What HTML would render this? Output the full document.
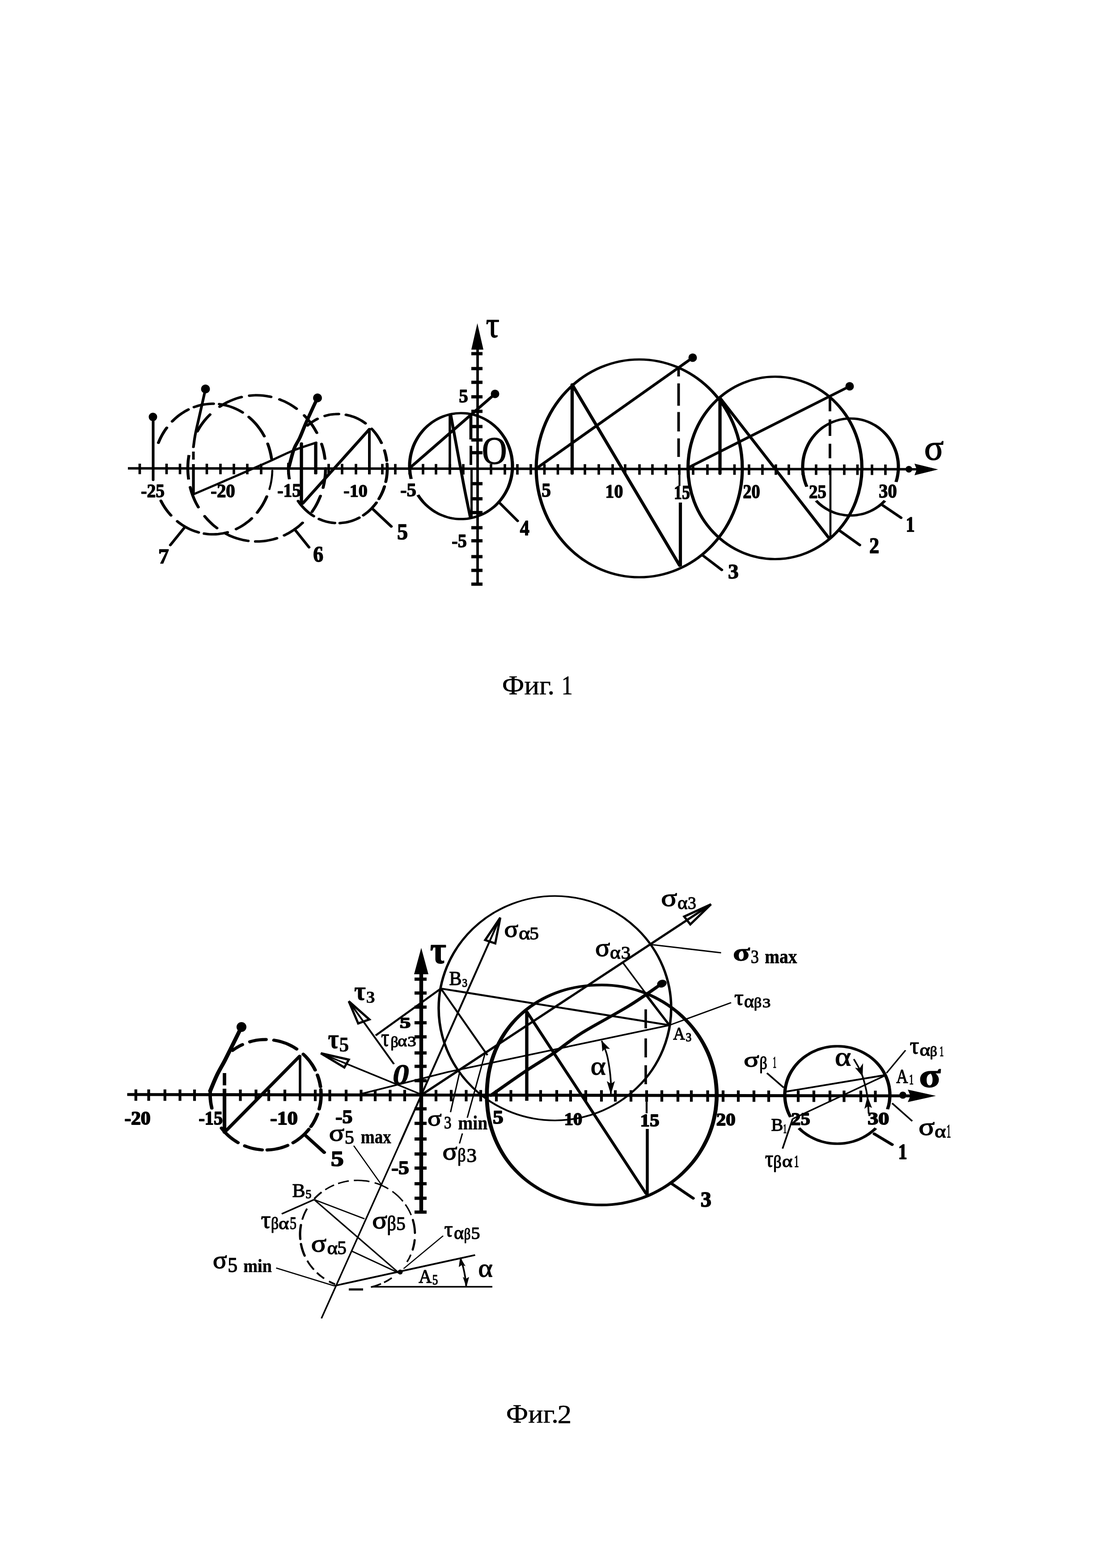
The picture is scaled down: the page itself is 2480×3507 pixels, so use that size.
<!DOCTYPE html>
<html lang="ru">
<head>
<meta charset="utf-8">
<title>Фиг. 1 — Фиг. 2</title>
<style>
html,body{margin:0;padding:0;background:#fff;}
body{width:2480px;height:3507px;overflow:hidden;}
svg{display:block;position:absolute;left:0;top:0;will-change:transform;}
svg text{font-family:"Liberation Serif","DejaVu Serif",serif;fill:#000;stroke:none;}
svg text.b{font-weight:bold;}
svg text.i{font-style:italic;}
svg text.s{stroke:#000;stroke-linejoin:round;}
.g{fill:none;stroke:#000;}
</style>
</head>
<body>
<svg width="2480" height="3507" viewBox="0 0 2480 3507">
<rect x="0" y="0" width="2480" height="3507" fill="#fff"/>
<g class="g">
<!-- ===== Fig. 1 ===== -->
<line x1="286" y1="1047.5" x2="2050" y2="1049.5" stroke-width="5.54"/>
<polygon points="2045,1037 2098,1050 2045,1063 2050,1050" fill="#000" stroke="none"/>
<circle cx="2032.5" cy="1049.5" r="7.5" fill="#000" stroke="none"/>
<line x1="1068" y1="779" x2="1068" y2="1308" stroke-width="5.72"/>
<polygon points="1054,782 1067.5,723 1081,782" fill="#000" stroke="none"/>
<line x1="312.5" y1="1037" x2="312.5" y2="1060.5" stroke-width="5.63"/>
<line x1="372.5" y1="1037.1" x2="372.5" y2="1060.6" stroke-width="5.63"/>
<line x1="402.5" y1="1037.1" x2="402.5" y2="1060.6" stroke-width="5.63"/>
<line x1="462.5" y1="1037.2" x2="462.5" y2="1060.7" stroke-width="5.63"/>
<line x1="493" y1="1037.2" x2="493" y2="1060.7" stroke-width="5.63"/>
<line x1="523" y1="1037.3" x2="523" y2="1060.8" stroke-width="5.63"/>
<line x1="553" y1="1037.3" x2="553" y2="1060.8" stroke-width="5.63"/>
<line x1="584" y1="1037.3" x2="584" y2="1060.8" stroke-width="5.63"/>
<line x1="645" y1="1037.4" x2="645" y2="1060.9" stroke-width="5.63"/>
<line x1="706" y1="1037.5" x2="706" y2="1061" stroke-width="5.63"/>
<line x1="735" y1="1037.5" x2="735" y2="1061" stroke-width="5.63"/>
<line x1="765" y1="1037.5" x2="765" y2="1061" stroke-width="5.63"/>
<line x1="796" y1="1037.6" x2="796" y2="1061.1" stroke-width="5.63"/>
<line x1="826" y1="1037.6" x2="826" y2="1061.1" stroke-width="5.63"/>
<line x1="855" y1="1037.6" x2="855" y2="1061.1" stroke-width="5.63"/>
<line x1="884" y1="1037.7" x2="884" y2="1061.2" stroke-width="5.63"/>
<line x1="916" y1="1037.7" x2="916" y2="1061.2" stroke-width="5.63"/>
<line x1="946" y1="1037.7" x2="946" y2="1061.2" stroke-width="5.63"/>
<line x1="975" y1="1037.8" x2="975" y2="1061.3" stroke-width="5.63"/>
<line x1="1006" y1="1037.8" x2="1006" y2="1061.3" stroke-width="5.63"/>
<line x1="1036" y1="1037.9" x2="1036" y2="1061.4" stroke-width="5.63"/>
<line x1="1098" y1="1037.9" x2="1098" y2="1061.4" stroke-width="5.63"/>
<line x1="1129" y1="1038" x2="1129" y2="1061.5" stroke-width="5.63"/>
<line x1="1157" y1="1038" x2="1157" y2="1061.5" stroke-width="5.63"/>
<line x1="1187" y1="1038" x2="1187" y2="1061.5" stroke-width="5.63"/>
<line x1="1217.5" y1="1038.1" x2="1217.5" y2="1061.6" stroke-width="5.63"/>
<line x1="1247.5" y1="1038.1" x2="1247.5" y2="1061.6" stroke-width="5.63"/>
<line x1="1279.5" y1="1038.1" x2="1279.5" y2="1061.6" stroke-width="5.63"/>
<line x1="1308" y1="1038.2" x2="1308" y2="1061.7" stroke-width="5.63"/>
<line x1="1339" y1="1038.2" x2="1339" y2="1061.7" stroke-width="5.63"/>
<line x1="1370" y1="1038.2" x2="1370" y2="1061.7" stroke-width="5.63"/>
<line x1="1398" y1="1038.3" x2="1398" y2="1061.8" stroke-width="5.63"/>
<line x1="1430" y1="1038.3" x2="1430" y2="1061.8" stroke-width="5.63"/>
<line x1="1459" y1="1038.3" x2="1459" y2="1061.8" stroke-width="5.63"/>
<line x1="1489" y1="1038.4" x2="1489" y2="1061.9" stroke-width="5.63"/>
<line x1="1519" y1="1038.4" x2="1519" y2="1061.9" stroke-width="5.63"/>
<line x1="1550" y1="1038.4" x2="1550" y2="1061.9" stroke-width="5.63"/>
<line x1="1582" y1="1038.5" x2="1582" y2="1062" stroke-width="5.63"/>
<line x1="1610" y1="1038.5" x2="1610" y2="1062" stroke-width="5.63"/>
<line x1="1642.5" y1="1038.5" x2="1642.5" y2="1062" stroke-width="5.63"/>
<line x1="1675" y1="1038.6" x2="1675" y2="1062.1" stroke-width="5.63"/>
<line x1="1705" y1="1038.6" x2="1705" y2="1062.1" stroke-width="5.63"/>
<line x1="1735" y1="1038.6" x2="1735" y2="1062.1" stroke-width="5.63"/>
<line x1="1764" y1="1038.7" x2="1764" y2="1062.2" stroke-width="5.63"/>
<line x1="1795" y1="1038.7" x2="1795" y2="1062.2" stroke-width="5.63"/>
<line x1="1825" y1="1038.7" x2="1825" y2="1062.2" stroke-width="5.63"/>
<line x1="1856" y1="1038.8" x2="1856" y2="1062.3" stroke-width="5.63"/>
<line x1="1888" y1="1038.8" x2="1888" y2="1062.3" stroke-width="5.63"/>
<line x1="1917.5" y1="1038.8" x2="1917.5" y2="1062.3" stroke-width="5.63"/>
<line x1="1950" y1="1038.9" x2="1950" y2="1062.4" stroke-width="5.63"/>
<line x1="1980" y1="1038.9" x2="1980" y2="1062.4" stroke-width="5.63"/>
<line x1="1054" y1="791" x2="1079" y2="791" stroke-width="7.3"/>
<line x1="1054" y1="824.4" x2="1079" y2="824.4" stroke-width="7.3"/>
<line x1="1054" y1="855.1" x2="1079" y2="855.1" stroke-width="7.3"/>
<line x1="1054" y1="887.5" x2="1079" y2="887.5" stroke-width="7.3"/>
<line x1="1054" y1="920" x2="1079" y2="920" stroke-width="7.3"/>
<line x1="1054" y1="954" x2="1079" y2="954" stroke-width="7.3"/>
<line x1="1054" y1="984" x2="1079" y2="984" stroke-width="7.3"/>
<line x1="1054" y1="1012.5" x2="1079" y2="1012.5" stroke-width="7.3"/>
<line x1="1054" y1="1081.8" x2="1079" y2="1081.8" stroke-width="7.3"/>
<line x1="1054" y1="1115.6" x2="1079" y2="1115.6" stroke-width="7.3"/>
<line x1="1054" y1="1146.4" x2="1079" y2="1146.4" stroke-width="7.3"/>
<line x1="1054" y1="1180.3" x2="1079" y2="1180.3" stroke-width="7.3"/>
<line x1="1054" y1="1209.5" x2="1079" y2="1209.5" stroke-width="7.3"/>
<line x1="1054" y1="1245" x2="1079" y2="1245" stroke-width="7.3"/>
<line x1="1054" y1="1275.7" x2="1079" y2="1275.7" stroke-width="7.3"/>
<line x1="1054" y1="1306.5" x2="1079" y2="1306.5" stroke-width="7.3"/>
<path d="M295.2,990.2C295.7,988.8 297.3,984.3 298.4,981.4C299.6,978.5 300.8,975.6 302.1,972.8C303.4,970 304.8,967.3 306.2,964.6C307.7,961.9 310,958.1 310.8,956.8" stroke-width="5.54" stroke-linecap="round" stroke-linejoin="round" transform="scale(1.2 1)"/>
<path d="M320.9,942.4C322.1,941.1 325.4,937.1 327.8,934.6C330.2,932.1 332.6,929.8 335.1,927.6C337.6,925.4 340.2,923.3 342.9,921.4C345.5,919.4 349.6,916.9 351,916" stroke-width="5.54" stroke-linecap="round" stroke-linejoin="round" transform="scale(1.2 1)"/>
<path d="M361.6,910.5C363.1,909.9 367.5,908.1 370.5,907.1C373.4,906.2 376.5,905.4 379.5,904.8C382.5,904.1 385.6,903.7 388.7,903.4C391.8,903.1 396.4,903.1 397.9,903" stroke-width="5.54" stroke-linecap="round" stroke-linejoin="round" transform="scale(1.2 1)"/>
<path d="M408.6,903.9C410.2,904.2 414.7,904.9 417.7,905.7C420.7,906.4 423.7,907.4 426.7,908.5C429.6,909.6 432.6,910.8 435.4,912.2C438.3,913.6 441.1,915.2 443.9,916.9C446.7,918.6 450.7,921.6 452.1,922.5" stroke-width="5.54" stroke-linecap="round" stroke-linejoin="round" transform="scale(1.2 1)"/>
<path d="M463.7,932.7C464.8,934 468.3,937.5 470.5,940.1C472.6,942.6 474.7,945.3 476.7,948C478.7,950.8 480.7,953.7 482.5,956.7C484.4,959.6 486.1,962.7 487.8,965.8C489.4,969 491.7,973.9 492.5,975.5" stroke-width="5.54" stroke-linecap="round" stroke-linejoin="round" transform="scale(1.2 1)"/>
<path d="M498.9,992.5C499.4,994.3 501,999.6 501.9,1003.3C502.8,1006.9 503.6,1010.6 504.3,1014.4C505,1018.1 505.8,1023.8 506.1,1025.7" stroke-width="5.54" stroke-linecap="round" stroke-linejoin="round" transform="scale(1.2 1)"/>
<path d="M507.5,1052.4C507.4,1054.2 507.2,1059.5 507,1063C506.7,1066.5 506.4,1070 505.9,1073.5C505.5,1077 504.9,1080.5 504.3,1083.9C503.6,1087.3 502.4,1092.4 502.1,1094.1" stroke-width="3.78" stroke-linecap="round" stroke-linejoin="round" transform="scale(1.2 1)"/>
<path d="M497.1,1110.7C496.5,1112.3 494.7,1117.1 493.4,1120.3C492.1,1123.4 490.7,1126.4 489.2,1129.4C487.7,1132.4 486.1,1135.3 484.4,1138.1C482.8,1141 480.1,1145 479.3,1146.4" stroke-width="5.54" stroke-linecap="round" stroke-linejoin="round" transform="scale(1.2 1)"/>
<path d="M469.1,1159.5C468,1160.7 464.7,1164.3 462.4,1166.6C460.1,1168.8 457.7,1170.9 455.3,1172.9C452.9,1174.9 450.4,1176.8 447.8,1178.5C445.3,1180.2 441.4,1182.5 440.1,1183.3" stroke-width="5.54" stroke-linecap="round" stroke-linejoin="round" transform="scale(1.2 1)"/>
<path d="M424.1,1190.5C422.7,1190.9 418.4,1192.2 415.5,1192.9C412.6,1193.5 409.7,1194 406.8,1194.4C403.8,1194.7 400.9,1194.9 398,1195C395,1195 392.1,1194.9 389.1,1194.7C386.2,1194.4 381.8,1193.6 380.4,1193.4" stroke-width="5.54" stroke-linecap="round" stroke-linejoin="round" transform="scale(1.2 1)"/>
<path d="M370.1,1190.8C368.7,1190.2 364.4,1188.7 361.6,1187.5C358.8,1186.3 356,1184.9 353.3,1183.4C350.6,1181.9 347.9,1180.2 345.3,1178.4C342.7,1176.6 340.2,1174.7 337.7,1172.6C335.2,1170.5 331.6,1167.1 330.4,1166" stroke-width="5.54" stroke-linecap="round" stroke-linejoin="round" transform="scale(1.2 1)"/>
<path d="M318.6,1152.7C317.7,1151.4 315,1147.8 313.3,1145.2C311.6,1142.6 309.9,1140 308.4,1137.3C306.8,1134.5 305.3,1131.7 303.9,1128.9C302.5,1126 300.5,1121.6 299.9,1120.1" stroke-width="5.54" stroke-linecap="round" stroke-linejoin="round" transform="scale(1.2 1)"/>
<path d="M367.7,964.6C368.6,962.9 371,957.7 372.8,954.4C374.6,951.1 376.5,947.9 378.5,944.8C380.4,941.7 382.5,938.7 384.7,935.7C386.8,932.8 390.2,928.7 391.4,927.3" stroke-width="5.54" stroke-linecap="round" stroke-linejoin="round" transform="scale(1.2 1)"/>
<path d="M409.4,909.6C411,908.4 415.7,904.7 419,902.5C422.2,900.4 425.6,898.4 429,896.6C432.4,894.8 435.9,893.1 439.4,891.7C442.9,890.3 448.3,888.6 450.1,888" stroke-width="5.54" stroke-linecap="round" stroke-linejoin="round" transform="scale(1.2 1)"/>
<path d="M464.7,884.9C466.4,884.8 471.4,884.2 474.8,884.1C478.2,883.9 481.5,884 484.9,884.2C488.3,884.4 491.7,884.8 495,885.4C498.4,885.9 503.3,887.2 505,887.6" stroke-width="5.54" stroke-linecap="round" stroke-linejoin="round" transform="scale(1.2 1)"/>
<path d="M521,893.3C522.3,894 526.5,895.9 529.3,897.4C532,898.9 534.7,900.6 537.3,902.3C540,904 542.6,905.9 545.1,907.9C547.7,909.9 551.3,913.1 552.6,914.1" stroke-width="5.54" stroke-linecap="round" stroke-linejoin="round" transform="scale(1.2 1)"/>
<path d="M567,929.3C568.1,930.8 571.5,935 573.7,938.1C575.8,941.1 577.9,944.3 579.9,947.5C581.8,950.7 583.7,954 585.4,957.4C587.2,960.9 589.6,966.2 590.4,967.9" stroke-width="5.54" stroke-linecap="round" stroke-linejoin="round" transform="scale(1.2 1)"/>
<path d="M599.3,993C599.8,994.8 601.2,1000.1 602,1003.7C602.8,1007.4 603.5,1011 604.1,1014.7C604.7,1018.4 605.3,1024 605.5,1025.8" stroke-width="5.54" stroke-linecap="round" stroke-linejoin="round" transform="scale(1.2 1)"/>
<path d="M606.7,1047.5C606.6,1049.3 606.6,1054.8 606.4,1058.4C606.2,1062.1 605.9,1065.7 605.5,1069.3C605.1,1072.9 604.7,1076.5 604.1,1080.1C603.5,1083.7 602.4,1089 602.1,1090.7" stroke-width="5.54" stroke-linecap="round" stroke-linejoin="round" transform="scale(1.2 1)"/>
<path d="M597.2,1109.3C596.4,1111.3 594.3,1117.6 592.7,1121.6C591.1,1125.7 589.4,1129.6 587.5,1133.5C585.6,1137.3 582.5,1142.8 581.5,1144.7" stroke-width="5.54" stroke-linecap="round" stroke-linejoin="round" transform="scale(1.2 1)"/>
<path d="M563.8,1169.4C562.5,1170.8 558.7,1175.1 556,1177.7C553.2,1180.3 550.4,1182.8 547.6,1185.2C544.7,1187.5 541.8,1189.7 538.8,1191.7C535.8,1193.8 531.1,1196.5 529.6,1197.4" stroke-width="5.54" stroke-linecap="round" stroke-linejoin="round" transform="scale(1.2 1)"/>
<path d="M515.9,1203.8C514.3,1204.4 509.5,1206.2 506.2,1207.1C502.9,1208 499.5,1208.8 496.2,1209.4C492.9,1210 489.5,1210.4 486.1,1210.7C482.8,1211 477.7,1210.9 476,1211" stroke-width="5.54" stroke-linecap="round" stroke-linejoin="round" transform="scale(1.2 1)"/>
<path d="M462.5,1209.8C460.7,1209.4 455.2,1208.4 451.6,1207.4C448,1206.4 444.5,1205.3 440.9,1203.9C437.4,1202.5 433.9,1201 430.5,1199.2C427.1,1197.5 422.1,1194.4 420.5,1193.4" stroke-width="5.54" stroke-linecap="round" stroke-linejoin="round" transform="scale(1.2 1)"/>
<path d="M404.3,1181C402.9,1179.7 398.8,1175.9 396.1,1173.1C393.5,1170.3 391,1167.3 388.5,1164.3C386.1,1161.2 382.6,1156.3 381.5,1154.8" stroke-width="5.54" stroke-linecap="round" stroke-linejoin="round" transform="scale(1.2 1)"/>
<path d="M369.6,1134.3C368.8,1132.6 366.3,1127.4 364.8,1123.8C363.3,1120.2 362,1116.6 360.7,1112.8C359.4,1109.1 358.3,1105.4 357.2,1101.5C356.2,1097.7 354.9,1091.9 354.4,1089.9" stroke-width="5.54" stroke-linecap="round" stroke-linejoin="round" transform="scale(1.2 1)"/>
<path d="M352.1,1017.8C351.9,1020 351,1026.8 350.6,1031.3C350.3,1035.9 350.1,1040.5 350,1045.1C350,1049.6 350.1,1054.2 350.3,1058.8C350.6,1063.3 351.3,1070.1 351.5,1072.4" stroke-width="5.46" stroke-linejoin="round" transform="scale(1.2 1)"/>
<path d="M573.2,951.5C574.2,950.6 577,947.8 579,946.1C581,944.3 583,942.7 585.1,941.2C587.2,939.7 590.4,937.6 591.5,936.9" stroke-width="5.54" stroke-linecap="round" stroke-linejoin="round" transform="scale(1.2 1)"/>
<path d="M605.3,930.3C606.3,930 609.5,928.9 611.7,928.3C613.8,927.8 616,927.3 618.1,926.9C620.3,926.6 622.5,926.3 624.7,926.2C626.9,926 630.2,926 631.3,926" stroke-width="5.54" stroke-linecap="round" stroke-linejoin="round" transform="scale(1.2 1)"/>
<path d="M644.8,927.7C646.1,928 649.9,929 652.5,929.8C655,930.7 657.5,931.7 660,932.8C662.4,934 664.9,935.3 667.3,936.7C669.7,938.1 672,939.7 674.3,941.3C676.6,943 679.9,945.9 681,946.8" stroke-width="5.54" stroke-linecap="round" stroke-linejoin="round" transform="scale(1.2 1)"/>
<path d="M692.6,959.1C693.5,960.3 696.2,963.7 697.9,966.2C699.6,968.6 701.2,971.2 702.7,973.8C704.2,976.4 705.6,979.1 707,981.9C708.3,984.7 710.2,989 710.8,990.5" stroke-width="5.54" stroke-linecap="round" stroke-linejoin="round" transform="scale(1.2 1)"/>
<path d="M716.5,1007.6C716.8,1008.8 717.7,1012.5 718.2,1015C718.8,1017.5 719.2,1020 719.6,1022.6C720.1,1025.1 720.5,1029 720.7,1030.2" stroke-width="5.54" stroke-linecap="round" stroke-linejoin="round" transform="scale(1.2 1)"/>
<path d="M721.3,1037.5C721.4,1039.2 721.7,1044.2 721.7,1047.6C721.7,1050.9 721.6,1054.3 721.4,1057.7C721.2,1061 720.9,1064.4 720.5,1067.7C720.1,1071 719.2,1075.9 718.9,1077.6" stroke-width="5.54" stroke-linecap="round" stroke-linejoin="round" transform="scale(1.2 1)"/>
<path d="M716.1,1089.7C715.7,1091.2 714.4,1095.7 713.4,1098.5C712.4,1101.4 711.3,1104.3 710.2,1107C709,1109.8 707.1,1113.8 706.5,1115.2" stroke-width="5.54" stroke-linecap="round" stroke-linejoin="round" transform="scale(1.2 1)"/>
<path d="M716.5,1088.2C716,1089.8 714.7,1094.6 713.7,1097.8C712.6,1100.9 711.4,1104 710.2,1107C708.9,1110 706.8,1114.3 706.1,1115.8" stroke-width="5.54" stroke-linecap="round" stroke-linejoin="round" transform="scale(1.2 1)"/>
<path d="M701.4,1124.4C700.7,1125.5 698.6,1128.8 697.1,1130.9C695.7,1133 694.1,1135 692.6,1137C691,1138.9 689.4,1140.8 687.7,1142.6C686,1144.4 684.3,1146.2 682.5,1147.8C680.8,1149.5 678,1151.7 677.1,1152.5" stroke-width="5.54" stroke-linecap="round" stroke-linejoin="round" transform="scale(1.2 1)"/>
<path d="M669.5,1157.9C668.4,1158.6 664.9,1160.7 662.6,1161.9C660.3,1163.1 657.9,1164.1 655.5,1165.1C653.1,1166 650.7,1166.8 648.2,1167.5C645.8,1168.1 643.3,1168.7 640.8,1169.1C638.4,1169.5 634.6,1169.8 633.4,1169.9" stroke-width="5.54" stroke-linecap="round" stroke-linejoin="round" transform="scale(1.2 1)"/>
<path d="M623.9,1169.8C622.7,1169.6 618.9,1169.2 616.4,1168.7C613.9,1168.3 611.4,1167.6 608.9,1166.9C606.5,1166.1 604,1165.3 601.6,1164.3C599.2,1163.2 595.7,1161.4 594.5,1160.8" stroke-width="5.54" stroke-linecap="round" stroke-linejoin="round" transform="scale(1.2 1)"/>
<path d="M584.6,1154.4C583.5,1153.5 580.1,1151 578,1149C575.8,1147.1 573.7,1145.1 571.7,1142.9C569.7,1140.7 567.7,1138.5 565.9,1136.1C564,1133.7 562.2,1131.2 560.5,1128.7C558.8,1126.1 556.4,1122 555.6,1120.6" stroke-width="5.54" stroke-linecap="round" stroke-linejoin="round" transform="scale(1.2 1)"/>
<path d="M538,1035.1C537.9,1036.6 537.6,1041.2 537.5,1044.3C537.5,1047.4 537.5,1050.5 537.6,1053.6C537.7,1056.7 537.9,1059.8 538.2,1062.9C538.5,1065.9 539.1,1070.5 539.3,1072" stroke-width="5.46" stroke-linejoin="round" transform="scale(1.2 1)"/>
<path d="M666.2,1071.2C666,1069.5 665.2,1064.5 664.8,1061.2C664.4,1057.8 664.2,1054.4 664,1051C663.8,1047.6 663.7,1044.2 663.8,1040.8C663.8,1037.4 663.9,1034 664.2,1030.6C664.4,1027.2 664.8,1023.8 665.2,1020.5C665.7,1017.1 666.2,1013.8 666.9,1010.5C667.5,1007.3 668.3,1004 669.1,1000.8C669.9,997.6 670.9,994.5 671.9,991.4C672.9,988.3 674.1,985.3 675.3,982.4C676.5,979.5 677.8,976.6 679.2,973.8C680.6,971 682.1,968.3 683.6,965.8C685.2,963.2 686.8,960.7 688.5,958.3C690.2,955.9 692,953.6 693.8,951.4C695.7,949.2 697.6,947.2 699.5,945.2C701.5,943.3 703.5,941.4 705.6,939.7C707.7,938 709.8,936.5 712,935C714.1,933.6 716.4,932.3 718.6,931.1C720.9,930 723.2,928.9 725.5,928.1C727.8,927.2 730.1,926.4 732.5,925.8C734.8,925.2 737.2,924.8 739.6,924.5C742,924.2 744.4,924 746.8,924C749.2,924 751.6,924.1 754,924.4C756.4,924.7 758.7,925.1 761.1,925.7C763.5,926.3 765.8,927 768.1,927.8C770.4,928.7 772.7,929.7 775,930.8C777.2,932 779.5,933.3 781.6,934.7C783.8,936.1 786,937.6 788.1,939.3C790.1,941 792.2,942.8 794.2,944.7C796.1,946.6 798.1,948.7 799.9,950.8C801.8,953 803.5,955.3 805.3,957.6C807,960 808.6,962.5 810.2,965.1C811.8,967.7 813.2,970.3 814.6,973.1C816,975.8 817.4,978.7 818.6,981.6C819.8,984.5 821,987.5 822,990.6C823.1,993.7 824,996.8 824.9,1000C825.7,1003.2 826.5,1006.4 827.2,1009.7C827.8,1012.9 828.4,1016.3 828.9,1019.6C829.3,1022.9 829.7,1026.3 829.9,1029.7C830.2,1033.1 830.4,1036.5 830.4,1039.9C830.5,1043.3 830.4,1046.7 830.3,1050.1C830.1,1053.5 829.9,1056.9 829.5,1060.3C829.1,1063.6 828.7,1067 828.1,1070.3C827.5,1073.6 826.9,1076.9 826.1,1080.1C825.4,1083.3 824.5,1086.5 823.6,1089.7C822.6,1092.8 821.5,1095.9 820.4,1098.8C819.3,1101.8 818,1104.8 816.7,1107.6C815.4,1110.5 814,1113.2 812.5,1115.9C811,1118.6 809.5,1121.2 807.8,1123.6C806.2,1126.1 804.5,1128.5 802.7,1130.8C800.9,1133.1 799,1135.2 797.1,1137.3C795.2,1139.3 793.2,1141.2 791.2,1143C789.2,1144.8 787.1,1146.5 785,1148.1C782.8,1149.6 780.6,1151 778.4,1152.3C776.2,1153.6 773.9,1154.7 771.6,1155.7C769.4,1156.7 767,1157.6 764.7,1158.3C762.4,1159 760,1159.6 757.6,1160.1C755.2,1160.5 752.8,1160.8 750.5,1160.9C748.1,1161 745.7,1161 743.3,1160.9C740.9,1160.7 738.5,1160.4 736.1,1160C733.7,1159.5 731.4,1158.9 729,1158.2C726.7,1157.4 724.4,1156.6 722.1,1155.5C719.8,1154.5 717.6,1153.4 715.3,1152.1C713.1,1150.8 710.9,1149.3 708.8,1147.8C706.7,1146.2 704.6,1144.5 702.6,1142.7C700.6,1140.9 698.6,1138.9 696.7,1136.8C694.8,1134.8 692.9,1132.6 691.2,1130.3C689.4,1128 687.7,1125.6 686,1123.1C684.4,1120.6 682.9,1118 681.4,1115.4C679.9,1112.7 677.9,1108.4 677.2,1107" stroke-width="5.21" stroke-linejoin="round" transform="scale(1.38 1)"/>
<ellipse cx="1035.9" cy="1047.5" rx="167" ry="243.5" stroke-width="5.21" transform="scale(1.38 1)"/>
<ellipse cx="1255.8" cy="1046.5" rx="140.9" ry="204" stroke-width="5.21" transform="scale(1.38 1)"/>
<path d="M1307.4,1088.6C1307,1087.2 1305.7,1082.9 1305,1079.9C1304.3,1077 1303.6,1074 1303.1,1071C1302.5,1068 1302.1,1064.9 1301.7,1061.8C1301.4,1058.8 1301.1,1055.7 1300.9,1052.6C1300.8,1049.5 1300.7,1046.3 1300.7,1043.2C1300.8,1040.1 1300.9,1037 1301.1,1033.9C1301.3,1030.8 1301.6,1027.7 1302,1024.7C1302.4,1021.6 1302.9,1018.6 1303.5,1015.6C1304.1,1012.6 1304.8,1009.6 1305.6,1006.7C1306.4,1003.8 1307.2,1000.9 1308.2,998.1C1309.1,995.3 1310.2,992.5 1311.3,989.8C1312.4,987.1 1313.6,984.5 1314.9,982C1316.2,979.4 1317.5,976.9 1319,974.6C1320.4,972.2 1321.9,969.9 1323.5,967.7C1325.1,965.5 1326.7,963.4 1328.4,961.4C1330.1,959.4 1331.9,957.5 1333.7,955.7C1335.5,953.9 1337.4,952.2 1339.3,950.7C1341.3,949.1 1343.2,947.7 1345.2,946.3C1347.3,945 1349.3,943.8 1351.4,942.7C1353.5,941.6 1355.6,940.7 1357.8,939.9C1359.9,939 1362.1,938.3 1364.3,937.8C1366.5,937.2 1368.7,936.8 1370.9,936.5C1373.1,936.2 1375.3,936 1377.5,936C1379.8,936 1382,936.1 1384.2,936.3C1386.4,936.6 1388.6,936.9 1390.8,937.4C1393,937.9 1395.2,938.6 1397.4,939.3C1399.5,940.1 1401.7,941 1403.8,942C1405.9,943.1 1407.9,944.2 1410,945.5C1412,946.8 1414,948.2 1415.9,949.7C1417.9,951.2 1419.8,952.8 1421.6,954.5C1423.5,956.3 1425.3,958.1 1427,960.1C1428.7,962.1 1430.4,964.1 1432,966.3C1433.6,968.4 1435.1,970.7 1436.6,973C1438.1,975.4 1439.5,977.8 1440.8,980.3C1442.1,982.8 1443.3,985.4 1444.5,988.1C1445.6,990.7 1446.7,993.5 1447.7,996.3C1448.7,999 1449.6,1001.9 1450.4,1004.8C1451.2,1007.7 1452,1010.6 1452.6,1013.6C1453.2,1016.6 1453.8,1019.6 1454.2,1022.7C1454.7,1025.7 1455,1028.8 1455.3,1031.9C1455.5,1035 1455.7,1038.1 1455.8,1041.2C1455.8,1044.3 1455.8,1047.5 1455.7,1050.6C1455.6,1053.7 1455.3,1056.8 1455,1059.9C1454.7,1062.9 1454.3,1066 1453.8,1069C1453.3,1072.1 1452.3,1076.5 1452,1078" stroke-width="5.21" stroke-linejoin="round" transform="scale(1.38 1)"/>
<path d="M1434,1119.9C1433.2,1120.9 1430.9,1124.2 1429.3,1126.2C1427.6,1128.2 1425.9,1130.1 1424.2,1131.9C1422.4,1133.7 1420.6,1135.4 1418.7,1137C1416.9,1138.6 1415,1140.1 1413,1141.5C1411.1,1142.9 1409.1,1144.1 1407,1145.2C1405,1146.4 1402.9,1147.4 1400.9,1148.3C1398.8,1149.2 1396.7,1149.9 1394.5,1150.6C1392.4,1151.2 1390.2,1151.7 1388.1,1152.1C1385.9,1152.5 1383.7,1152.8 1381.5,1152.9C1379.4,1153 1377.2,1153 1375,1152.9C1372.8,1152.8 1370.6,1152.5 1368.5,1152.1C1366.3,1151.7 1364.1,1151.2 1362,1150.6C1359.9,1149.9 1357.7,1149.2 1355.7,1148.3C1353.6,1147.4 1351.5,1146.4 1349.5,1145.2C1347.5,1144.1 1345.5,1142.9 1343.5,1141.5C1341.6,1140.1 1339.6,1138.6 1337.8,1137C1335.9,1135.4 1334.1,1133.7 1332.3,1131.9C1330.6,1130.1 1328.9,1128.2 1327.2,1126.2C1325.6,1124.2 1323.3,1120.9 1322.5,1119.9" stroke-width="5.21" stroke-linejoin="round" transform="scale(1.38 1)"/>
<line x1="342.5" y1="932" x2="342.5" y2="1073" stroke-width="6.05" stroke-linecap="round"/>
<circle cx="342" cy="932.5" r="9.5" fill="#000" stroke="none"/>
<circle cx="459.5" cy="870" r="10" fill="#000" stroke="none"/>
<path d="M353.5,870C351.9,879.3 346.7,909.3 343.8,926C341,942.7 338,957.7 336.2,970C334.3,982.3 333.3,995 332.7,1000" stroke-width="4.7" stroke-linecap="round" stroke-linejoin="round" transform="scale(1.3 1)"/>
<line x1="432.5" y1="1010" x2="432.5" y2="1028" stroke-width="5.88"/>
<line x1="432.5" y1="1038" x2="432.5" y2="1106" stroke-width="6.3"/>
<path d="M333.8,1105C344.9,1098.8 378.7,1080 400,1068C421.3,1056 444.2,1043 461.5,1033C478.8,1023 490.1,1015.2 503.8,1008C517.6,1000.8 537.2,993 543.8,990" stroke-width="4.7" stroke-linecap="round" stroke-linejoin="round" transform="scale(1.3 1)"/>
<line x1="543.1" y1="990" x2="543.1" y2="1060" stroke-width="5.63" transform="scale(1.3 1)"/>
<circle cx="710" cy="890" r="10" fill="#000" stroke="none"/>
<path d="M546.2,890C544.4,895 538.9,910 535.4,920C531.9,930 528.3,940 525,950C521.7,960 518.6,971 515.4,980C512.2,989 508.8,993.2 505.8,1004C502.7,1014.8 498.4,1038.2 496.9,1045" stroke-width="6.13" stroke-linecap="round" stroke-linejoin="round" transform="scale(1.3 1)"/>
<line x1="518.5" y1="992" x2="518.5" y2="1126" stroke-width="5.63" stroke-linecap="round" transform="scale(1.3 1)"/>
<line x1="520.8" y1="1126" x2="635.4" y2="960" stroke-width="5.63" stroke-linecap="round" transform="scale(1.3 1)"/>
<line x1="635.4" y1="960" x2="635.4" y2="1060" stroke-width="4.62" transform="scale(1.3 1)"/>
<circle cx="1107" cy="881" r="9.5" fill="#000" stroke="none"/>
<line x1="704.6" y1="1047" x2="851.5" y2="881" stroke-width="5.63" stroke-linecap="round" transform="scale(1.3 1)"/>
<line x1="773.8" y1="928" x2="773.8" y2="1060" stroke-width="4.2" transform="scale(1.3 1)"/>
<path d="M775.4,928C778.2,947.8 788.2,1018.3 792.3,1047C796.4,1075.7 797.2,1081.5 800,1100C802.8,1118.5 807.7,1148.3 809.2,1158" stroke-width="5.04" stroke-linecap="round" stroke-linejoin="round" transform="scale(1.3 1)"/>
<line x1="1053" y1="925" x2="1053" y2="983" stroke-width="6.72"/>
<line x1="1053" y1="997" x2="1053" y2="1040" stroke-width="5.88"/>
<line x1="1054.5" y1="1047" x2="1054.5" y2="1160" stroke-width="5.04"/>
<circle cx="1549" cy="800" r="9.5" fill="#000" stroke="none"/>
<line x1="922.3" y1="1048" x2="1191.5" y2="800" stroke-width="5.63" stroke-linecap="round" transform="scale(1.3 1)"/>
<line x1="984.2" y1="860" x2="984.2" y2="1060" stroke-width="5.63" transform="scale(1.3 1)"/>
<line x1="984.2" y1="860" x2="1169.2" y2="1265" stroke-width="5.63" stroke-linecap="round" transform="scale(1.3 1)"/>
<line x1="1517.5" y1="825" x2="1517.5" y2="842" stroke-width="5.8"/>
<line x1="1517.5" y1="857.5" x2="1517.5" y2="907.5" stroke-width="5.8"/>
<line x1="1517.5" y1="921.5" x2="1517.5" y2="965" stroke-width="5.8"/>
<line x1="1517.5" y1="980.5" x2="1517.5" y2="1022" stroke-width="5.8"/>
<line x1="1519.5" y1="1048" x2="1519.5" y2="1087" stroke-width="4.2"/>
<line x1="1521.5" y1="1124" x2="1521.5" y2="1266" stroke-width="7.14"/>
<circle cx="1900" cy="864" r="9.5" fill="#000" stroke="none"/>
<line x1="1183.8" y1="1046" x2="1461.5" y2="864" stroke-width="5.63" stroke-linecap="round" transform="scale(1.3 1)"/>
<line x1="1238.5" y1="890" x2="1238.5" y2="1060" stroke-width="5.63" transform="scale(1.3 1)"/>
<line x1="1238.5" y1="890" x2="1425.4" y2="1202.5" stroke-width="5.38" stroke-linecap="round" transform="scale(1.3 1)"/>
<line x1="1856" y1="888" x2="1856" y2="920" stroke-width="5.8"/>
<line x1="1856" y1="938" x2="1856" y2="975" stroke-width="5.8"/>
<line x1="1856" y1="992.5" x2="1856" y2="1025" stroke-width="5.8"/>
<line x1="1857" y1="1048" x2="1857" y2="1203" stroke-width="4.62"/>
<line x1="358.7" y1="1180" x2="331.3" y2="1219" stroke-width="5.54" stroke-linecap="round" transform="scale(1.15 1)"/>
<line x1="573" y1="1184" x2="600.9" y2="1224" stroke-width="5.54" stroke-linecap="round" transform="scale(1.15 1)"/>
<line x1="723.9" y1="1137.5" x2="760.9" y2="1177.5" stroke-width="5.54" stroke-linecap="round" transform="scale(1.15 1)"/>
<line x1="971.7" y1="1125" x2="1006.5" y2="1165" stroke-width="5.54" stroke-linecap="round" transform="scale(1.15 1)"/>
<line x1="1365.2" y1="1241" x2="1403.5" y2="1274.6" stroke-width="5.54" stroke-linecap="round" transform="scale(1.15 1)"/>
<line x1="1631.7" y1="1186" x2="1671.9" y2="1219" stroke-width="5.54" stroke-linecap="round" transform="scale(1.15 1)"/>
<line x1="1716.9" y1="1130.5" x2="1752.2" y2="1158" stroke-width="5.54" stroke-linecap="round" transform="scale(1.15 1)"/>
<text class="b s" transform="translate(315.3 1112.3) scale(0.940 1)" style="font-size:42.2px;stroke-width:1.6px;">-25</text>
<text class="b s" transform="translate(471.3 1112.3) scale(0.971 1)" style="font-size:42.1px;stroke-width:1.6px;">-20</text>
<text class="b s" transform="translate(620.3 1111.3) scale(0.936 1)" style="font-size:42.4px;stroke-width:1.6px;">-15</text>
<text class="b s" transform="translate(768.3 1111.3) scale(1.006 1)" style="font-size:39.9px;stroke-width:1.6px;">-10</text>
<text class="b s" transform="translate(895.2 1109.8) scale(1.002 1)" style="font-size:42.7px;stroke-width:1.6px;">-5</text>
<text class="b s" transform="translate(1211.2 1110.8) scale(0.932 1)" style="font-size:44.2px;stroke-width:1.6px;">5</text>
<text class="b s" transform="translate(1353.6 1112.8) scale(0.940 1)" style="font-size:42.1px;stroke-width:1.6px;">10</text>
<text class="b s" transform="translate(1506.9 1116.3) scale(0.810 1)" style="font-size:44.6px;stroke-width:1.6px;">15</text>
<text class="b s" transform="translate(1661.2 1114.3) scale(0.869 1)" style="font-size:44.3px;stroke-width:1.6px;">20</text>
<text class="b s" transform="translate(1809.1 1113.8) scale(0.924 1)" style="font-size:42.2px;stroke-width:1.6px;">25</text>
<text class="b s" transform="translate(1965.3 1112.8) scale(0.913 1)" style="font-size:44.3px;stroke-width:1.6px;">30</text>
<text class="b s" transform="translate(1026.2 899.8) scale(0.964 1)" style="font-size:42.7px;stroke-width:1.6px;">5</text>
<text class="b s" transform="translate(1010.3 1223.8) scale(0.957 1)" style="font-size:42.0px;stroke-width:1.6px;">-5</text>
<text class="b s" transform="translate(354.1 1260.2) scale(1.027 1)" style="font-size:46.4px;stroke-width:1.6px;">7</text>
<text class="b s" transform="translate(700.2 1256.2) scale(0.921 1)" style="font-size:49.7px;stroke-width:1.6px;">6</text>
<text class="b s" transform="translate(887.9 1206.2) scale(0.961 1)" style="font-size:50.2px;stroke-width:1.6px;">5</text>
<text class="b s" transform="translate(1162.8 1196.7) scale(0.873 1)" style="font-size:48.5px;stroke-width:1.6px;">4</text>
<text class="b s" transform="translate(1628.0 1293.7) scale(1.006 1)" style="font-size:47.4px;stroke-width:1.6px;">3</text>
<text class="b s" transform="translate(1943.9 1236.7) scale(0.879 1)" style="font-size:50.4px;stroke-width:1.6px;">2</text>
<text class="b s" transform="translate(2025.6 1188.7) scale(0.839 1)" style="font-size:48.3px;stroke-width:1.6px;">1</text>
<text class="r s" transform="translate(1086.6 754.4) scale(0.910 1)" style="font-size:83.0px;stroke-width:1.5px;">τ</text>
<text class="r s" transform="translate(2066.7 1027.5) scale(1.020 1)" style="font-size:79.4px;stroke-width:1.5px;">σ</text>
<text class="r s" transform="translate(1077.7 1037.4) scale(0.889 1)" style="font-size:87.0px;stroke-width:1.5px;">O</text>
<text class="r s" transform="translate(1122.8 1552.8) scale(1.041 1)" style="font-size:60.3px;stroke-width:0.6px;">Фиг.</text>
<text class="r s" transform="translate(1255.4 1553.4) scale(0.836 1)" style="font-size:60.8px;stroke-width:0.6px;">1</text>
<!-- ===== Fig. 2 ===== -->
<line x1="284.5" y1="2448" x2="2036" y2="2451" stroke-width="6.66"/>
<polygon points="2030,2437 2093,2451 2030,2465 2036,2451" fill="#000" stroke="none"/>
<circle cx="2019" cy="2449.5" r="8" fill="#000" stroke="none"/>
<line x1="942" y1="2175" x2="942" y2="2712" stroke-width="8.46"/>
<polygon points="926,2179 942,2120 958,2179" fill="#000" stroke="none"/>
<line x1="303.8" y1="2436.5" x2="303.8" y2="2462" stroke-width="6.21"/>
<line x1="332.5" y1="2436.6" x2="332.5" y2="2462.1" stroke-width="6.21"/>
<line x1="368.8" y1="2436.6" x2="368.8" y2="2462.1" stroke-width="6.21"/>
<line x1="402.5" y1="2436.7" x2="402.5" y2="2462.2" stroke-width="6.21"/>
<line x1="435" y1="2436.8" x2="435" y2="2462.3" stroke-width="6.21"/>
<line x1="537.5" y1="2436.9" x2="537.5" y2="2462.4" stroke-width="6.21"/>
<line x1="572.5" y1="2437" x2="572.5" y2="2462.5" stroke-width="6.21"/>
<line x1="601" y1="2437" x2="601" y2="2462.5" stroke-width="6.21"/>
<line x1="637" y1="2437.1" x2="637" y2="2462.6" stroke-width="6.21"/>
<line x1="705" y1="2437.2" x2="705" y2="2462.7" stroke-width="6.21"/>
<line x1="737.5" y1="2437.3" x2="737.5" y2="2462.8" stroke-width="6.21"/>
<line x1="774" y1="2437.3" x2="774" y2="2462.8" stroke-width="6.21"/>
<line x1="807.5" y1="2437.4" x2="807.5" y2="2462.9" stroke-width="6.21"/>
<line x1="839" y1="2437.4" x2="839" y2="2462.9" stroke-width="6.21"/>
<line x1="872.5" y1="2437.5" x2="872.5" y2="2463" stroke-width="6.21"/>
<line x1="905" y1="2437.6" x2="905" y2="2463.1" stroke-width="6.21"/>
<line x1="975" y1="2437.7" x2="975" y2="2463.2" stroke-width="6.21"/>
<line x1="1009" y1="2437.7" x2="1009" y2="2463.2" stroke-width="6.21"/>
<line x1="1042.5" y1="2437.8" x2="1042.5" y2="2463.3" stroke-width="6.21"/>
<line x1="1075" y1="2437.9" x2="1075" y2="2463.4" stroke-width="6.21"/>
<line x1="1110" y1="2437.9" x2="1110" y2="2463.4" stroke-width="6.21"/>
<line x1="1142.5" y1="2438" x2="1142.5" y2="2463.5" stroke-width="6.21"/>
<line x1="1209" y1="2438.1" x2="1209" y2="2463.6" stroke-width="6.21"/>
<line x1="1245" y1="2438.1" x2="1245" y2="2463.6" stroke-width="6.21"/>
<line x1="1276" y1="2438.2" x2="1276" y2="2463.7" stroke-width="6.21"/>
<line x1="1310" y1="2438.3" x2="1310" y2="2463.8" stroke-width="6.21"/>
<line x1="1345" y1="2438.3" x2="1345" y2="2463.8" stroke-width="6.21"/>
<line x1="1376" y1="2438.4" x2="1376" y2="2463.9" stroke-width="6.21"/>
<line x1="1411" y1="2438.4" x2="1411" y2="2463.9" stroke-width="6.21"/>
<line x1="1446" y1="2438.5" x2="1446" y2="2464" stroke-width="6.21"/>
<line x1="1480" y1="2438.5" x2="1480" y2="2464" stroke-width="6.21"/>
<line x1="1516" y1="2438.6" x2="1516" y2="2464.1" stroke-width="6.21"/>
<line x1="1546" y1="2438.7" x2="1546" y2="2464.2" stroke-width="6.21"/>
<line x1="1582.5" y1="2438.7" x2="1582.5" y2="2464.2" stroke-width="6.21"/>
<line x1="1617" y1="2438.8" x2="1617" y2="2464.3" stroke-width="6.21"/>
<line x1="1651" y1="2438.8" x2="1651" y2="2464.3" stroke-width="6.21"/>
<line x1="1686" y1="2438.9" x2="1686" y2="2464.4" stroke-width="6.21"/>
<line x1="1719" y1="2439" x2="1719" y2="2464.5" stroke-width="6.21"/>
<line x1="1785" y1="2439.1" x2="1785" y2="2464.6" stroke-width="6.21"/>
<line x1="1820" y1="2439.1" x2="1820" y2="2464.6" stroke-width="6.21"/>
<line x1="1856" y1="2439.2" x2="1856" y2="2464.7" stroke-width="6.21"/>
<line x1="1887.5" y1="2439.2" x2="1887.5" y2="2464.7" stroke-width="6.21"/>
<line x1="1925" y1="2439.3" x2="1925" y2="2464.8" stroke-width="6.21"/>
<line x1="1957.5" y1="2439.4" x2="1957.5" y2="2464.9" stroke-width="6.21"/>
<line x1="927" y1="2190" x2="954" y2="2190" stroke-width="7.2"/>
<line x1="927" y1="2221" x2="954" y2="2221" stroke-width="7.2"/>
<line x1="927" y1="2252.5" x2="954" y2="2252.5" stroke-width="7.2"/>
<line x1="927" y1="2287.5" x2="954" y2="2287.5" stroke-width="7.2"/>
<line x1="927" y1="2319" x2="954" y2="2319" stroke-width="7.2"/>
<line x1="927" y1="2355" x2="954" y2="2355" stroke-width="7.2"/>
<line x1="927" y1="2385" x2="954" y2="2385" stroke-width="7.2"/>
<line x1="927" y1="2417" x2="954" y2="2417" stroke-width="7.2"/>
<line x1="927" y1="2480" x2="954" y2="2480" stroke-width="7.2"/>
<line x1="927" y1="2512.5" x2="954" y2="2512.5" stroke-width="7.2"/>
<line x1="927" y1="2547.5" x2="954" y2="2547.5" stroke-width="7.2"/>
<line x1="927" y1="2581" x2="954" y2="2581" stroke-width="7.2"/>
<line x1="927" y1="2612.5" x2="954" y2="2612.5" stroke-width="7.2"/>
<line x1="927" y1="2647.5" x2="954" y2="2647.5" stroke-width="7.2"/>
<line x1="927" y1="2680" x2="954" y2="2680" stroke-width="7.2"/>
<line x1="927" y1="2711" x2="954" y2="2711" stroke-width="7.2"/>
<ellipse cx="827.3" cy="2255" rx="173.3" ry="251" stroke-width="3.68" transform="scale(1.5 1)"/>
<path d="M1068.5,2449C1068.5,2456.1 1068.3,2463.3 1067.8,2470.4C1067.4,2477.6 1066.8,2484.7 1065.9,2491.7C1065,2498.8 1064,2505.8 1062.7,2512.7C1061.4,2519.6 1059.9,2526.4 1058.2,2533.1C1056.5,2539.9 1054.6,2546.5 1052.4,2553C1050.3,2559.4 1048,2565.8 1045.5,2572C1043.1,2578.2 1040.4,2584.2 1037.5,2590.1C1034.7,2596 1031.6,2601.7 1028.4,2607.1C1025.2,2612.6 1021.8,2617.9 1018.3,2622.9C1014.8,2628 1011.1,2632.9 1007.3,2637.4C1003.5,2642 999.5,2646.4 995.4,2650.5C991.4,2654.6 987.1,2658.5 982.8,2662C978.5,2665.6 974.1,2668.9 969.6,2672C965.1,2675 960.4,2677.7 955.8,2680.2C951.1,2682.6 946.3,2684.8 941.5,2686.6C936.7,2688.5 931.8,2690 926.9,2691.3C922,2692.5 917.1,2693.4 912.1,2694.1C907.1,2694.7 902.5,2695 897.2,2695C891.9,2695 885.8,2694.7 880.4,2694.1C875,2693.5 869.9,2692.6 864.8,2691.4C859.7,2690.3 854.8,2688.8 849.9,2687C845,2685.2 840.2,2683.2 835.5,2680.9C830.8,2678.5 826.2,2675.9 821.7,2673C817.2,2670.1 812.9,2666.9 808.6,2663.5C804.4,2660.1 800.2,2656.4 796.3,2652.4C792.3,2648.5 788.4,2644.3 784.7,2639.9C781,2635.4 777.4,2630.7 774,2625.8C770.6,2620.9 767.3,2615.8 764.2,2610.5C761.2,2605.2 758.2,2599.6 755.5,2593.9C752.7,2588.2 750.2,2582.2 747.8,2576.1C745.4,2570 743.2,2563.7 741.2,2557.3C739.1,2550.9 737.3,2544.3 735.7,2537.5C734.1,2530.8 732.6,2523.9 731.4,2516.9C730.2,2509.9 729.1,2502.7 728.3,2495.4C727.5,2488.1 726.9,2480.8 726.5,2473.1C726,2465.3 725.8,2457 725.8,2449C725.8,2441 726,2432.7 726.5,2424.9C726.9,2417.2 727.5,2409.9 728.3,2402.6C729.1,2395.3 730.2,2388.1 731.4,2381.1C732.6,2374.1 734.1,2367.2 735.7,2360.5C737.3,2353.7 739.1,2347.1 741.2,2340.7C743.2,2334.3 745.4,2328 747.8,2321.9C750.2,2315.8 752.7,2309.8 755.5,2304.1C758.2,2298.4 761.2,2292.8 764.2,2287.5C767.3,2282.2 770.6,2277.1 774,2272.2C777.4,2267.3 781,2262.6 784.7,2258.1C788.4,2253.7 792.3,2249.5 796.3,2245.6C800.2,2241.6 804.4,2237.9 808.6,2234.5C812.9,2231.1 817.2,2227.9 821.7,2225C826.2,2222.1 830.8,2219.5 835.5,2217.1C840.2,2214.8 845,2212.8 849.9,2211C854.8,2209.2 859.7,2207.7 864.8,2206.6C869.9,2205.4 875,2204.5 880.4,2203.9C885.8,2203.3 891.9,2203 897.2,2203C902.5,2203 907.1,2203.3 912.1,2203.9C917.1,2204.6 922,2205.5 926.9,2206.7C931.8,2208 936.7,2209.5 941.5,2211.4C946.3,2213.2 951.1,2215.4 955.8,2217.8C960.4,2220.3 965.1,2223 969.6,2226C974.1,2229.1 978.5,2232.4 982.8,2236C987.1,2239.5 991.4,2243.4 995.4,2247.5C999.5,2251.6 1003.5,2256 1007.3,2260.6C1011.1,2265.1 1014.8,2270 1018.3,2275.1C1021.8,2280.1 1025.2,2285.4 1028.4,2290.9C1031.6,2296.3 1034.7,2302 1037.5,2307.9C1040.4,2313.8 1043.1,2319.8 1045.5,2326C1048,2332.2 1050.3,2338.6 1052.4,2345C1054.6,2351.5 1056.5,2358.1 1058.2,2364.9C1059.9,2371.6 1061.4,2378.4 1062.7,2385.3C1064,2392.2 1065,2399.2 1065.9,2406.3C1066.8,2413.3 1067.4,2420.4 1067.8,2427.6C1068.3,2434.7 1068.5,2441.9 1068.5,2449Z" stroke-width="5.85" stroke-linecap="round" stroke-linejoin="round" transform="scale(1.5 1)"/>
<path d="M1359.9,2498.5C1359.3,2497 1357.6,2492.8 1356.6,2489.9C1355.6,2486.9 1354.7,2484 1354,2480.9C1353.2,2477.9 1352.5,2474.9 1352,2471.8C1351.5,2468.7 1351,2465.6 1350.7,2462.5C1350.4,2459.3 1350.2,2456.2 1350.1,2453C1350,2449.9 1350,2446.7 1350.1,2443.5C1350.2,2440.4 1350.5,2437.2 1350.8,2434.1C1351.2,2431 1351.7,2427.9 1352.3,2424.8C1352.8,2421.7 1353.5,2418.7 1354.3,2415.7C1355.1,2412.7 1356,2409.7 1357,2406.8C1358.1,2403.9 1359.2,2401 1360.4,2398.2C1361.6,2395.4 1362.9,2392.7 1364.4,2390.1C1365.8,2387.4 1367.3,2384.8 1368.9,2382.3C1370.5,2379.8 1372.2,2377.4 1373.9,2375.1C1375.7,2372.8 1377.6,2370.5 1379.5,2368.4C1381.4,2366.3 1383.5,2364.3 1385.5,2362.4C1387.6,2360.4 1389.8,2358.6 1392,2356.9C1394.2,2355.3 1396.5,2353.7 1398.8,2352.2C1401.1,2350.8 1403.5,2349.4 1405.9,2348.2C1408.3,2347 1410.8,2346 1413.3,2345C1415.8,2344.1 1418.3,2343.3 1420.9,2342.6C1423.4,2341.9 1426,2341.3 1428.6,2340.9C1431.2,2340.5 1433.8,2340.2 1436.4,2340.1C1439,2340 1441.7,2340 1444.3,2340.1C1446.9,2340.2 1449.5,2340.5 1452.1,2340.9C1454.7,2341.3 1457.3,2341.9 1459.8,2342.6C1462.4,2343.2 1464.9,2344 1467.4,2345C1469.9,2345.9 1472.4,2347 1474.8,2348.2C1477.2,2349.4 1479.6,2350.7 1481.9,2352.2C1484.2,2353.6 1486.5,2355.2 1488.7,2356.9C1490.9,2358.6 1493.1,2360.4 1495.2,2362.3C1497.2,2364.2 1499.3,2366.2 1501.2,2368.4C1503.1,2370.5 1505,2372.7 1506.8,2375C1508.5,2377.3 1510.2,2379.8 1511.8,2382.3C1513.4,2384.8 1515,2387.3 1516.4,2390C1517.8,2392.6 1519.1,2395.4 1520.3,2398.2C1521.6,2401 1522.7,2403.8 1523.7,2406.7C1524.7,2409.6 1525.6,2412.6 1526.4,2415.6C1527.2,2418.6 1527.9,2421.7 1528.5,2424.7C1529.1,2427.8 1529.6,2430.9 1529.9,2434C1530.3,2437.2 1530.5,2440.3 1530.7,2443.5C1530.8,2446.6 1530.8,2449.8 1530.7,2452.9C1530.6,2456.1 1530.4,2459.2 1530.1,2462.4C1529.8,2465.5 1529.3,2468.6 1528.8,2471.7C1528.2,2474.8 1527.1,2479.3 1526.8,2480.9" stroke-width="5.68" stroke-linejoin="round" transform="scale(1.3 1)"/>
<path d="M1506.5,2523.3C1505.6,2524.4 1502.9,2527.8 1500.9,2529.9C1499,2532 1497,2534 1494.9,2535.9C1492.8,2537.8 1490.7,2539.6 1488.5,2541.3C1486.3,2542.9 1484,2544.5 1481.7,2545.9C1479.4,2547.4 1477,2548.7 1474.6,2549.9C1472.2,2551.1 1469.8,2552.1 1467.3,2553.1C1464.8,2554 1462.3,2554.8 1459.7,2555.5C1457.2,2556.1 1454.6,2556.7 1452.1,2557.1C1449.5,2557.5 1446.9,2557.8 1444.3,2557.9C1441.7,2558 1439.1,2558 1436.5,2557.9C1433.9,2557.8 1431.3,2557.5 1428.7,2557.1C1426.1,2556.7 1423.6,2556.1 1421,2555.5C1418.5,2554.8 1416,2554 1413.5,2553.1C1411,2552.1 1408.5,2551.1 1406.1,2549.9C1403.7,2548.7 1401.4,2547.4 1399.1,2545.9C1396.7,2544.5 1394.5,2542.9 1392.3,2541.3C1390.1,2539.6 1387.9,2537.8 1385.9,2535.9C1383.8,2534 1381.8,2532 1379.8,2529.9C1377.9,2527.8 1375.2,2524.4 1374.3,2523.3" stroke-width="5.68" stroke-linejoin="round" transform="scale(1.3 1)"/>
<path d="M464.4,2349.3C465.4,2348.5 468.5,2346 470.7,2344.5C472.8,2343 475,2341.5 477.2,2340.2C479.4,2338.8 482.9,2337 484,2336.4" stroke-width="6.88" stroke-linecap="round" stroke-linejoin="round" transform="scale(1.12 1)"/>
<path d="M498.9,2330.1C500.2,2329.7 504.2,2328.5 506.8,2327.8C509.5,2327.2 512.2,2326.6 514.9,2326.2C517.6,2325.8 520.3,2325.5 523.1,2325.3C525.8,2325.1 529.9,2325 531.2,2325" stroke-width="6.88" stroke-linecap="round" stroke-linejoin="round" transform="scale(1.12 1)"/>
<path d="M546.9,2326.4C548.2,2326.7 552.3,2327.4 554.9,2328.1C557.6,2328.8 560.2,2329.5 562.8,2330.4C565.4,2331.3 568,2332.3 570.6,2333.4C573.1,2334.5 575.6,2335.8 578.1,2337.1C580.6,2338.4 583,2339.8 585.4,2341.3C587.7,2342.8 591.2,2345.4 592.3,2346.2" stroke-width="6.88" stroke-linecap="round" stroke-linejoin="round" transform="scale(1.12 1)"/>
<path d="M605.6,2358C606.6,2359 609.5,2362 611.3,2364.2C613.1,2366.4 614.8,2368.6 616.5,2370.9C618.1,2373.2 619.7,2375.6 621.2,2378C622.8,2380.4 624.2,2382.9 625.5,2385.4C626.9,2388 628.7,2391.9 629.3,2393.2" stroke-width="6.88" stroke-linecap="round" stroke-linejoin="round" transform="scale(1.12 1)"/>
<path d="M633.8,2404.6C634.3,2406 635.6,2410.1 636.4,2413C637.2,2415.8 637.8,2418.7 638.4,2421.6C639,2424.5 639.6,2428.9 639.9,2430.3" stroke-width="6.88" stroke-linecap="round" stroke-linejoin="round" transform="scale(1.12 1)"/>
<path d="M640.6,2437.4C640.7,2438.8 641,2443.2 641,2446C641.1,2448.9 641.1,2451.8 640.9,2454.7C640.8,2457.6 640.6,2460.5 640.3,2463.3C640,2466.2 639.6,2469.1 639.1,2471.9C638.6,2474.7 637.6,2478.9 637.3,2480.3" stroke-width="6.88" stroke-linecap="round" stroke-linejoin="round" transform="scale(1.12 1)"/>
<path d="M634,2492C633.4,2493.6 631.6,2498.5 630.3,2501.6C629,2504.7 627.5,2507.8 626,2510.8C624.4,2513.8 621.8,2518.1 620.9,2519.5" stroke-width="6.88" stroke-linecap="round" stroke-linejoin="round" transform="scale(1.12 1)"/>
<path d="M585.2,2555.8C586.4,2555 590,2552.6 592.3,2550.9C594.5,2549.2 596.8,2547.3 599,2545.4C601.1,2543.5 603.2,2541.5 605.3,2539.4C607.3,2537.4 609.3,2535.2 611.2,2532.9C613,2530.7 615.7,2527.1 616.6,2526" stroke-width="6.88" stroke-linecap="round" stroke-linejoin="round" transform="scale(1.12 1)"/>
<path d="M533.5,2572C534.9,2571.8 539.1,2571.7 541.9,2571.3C544.7,2571 547.5,2570.6 550.2,2570C553,2569.4 555.7,2568.7 558.5,2568C561.2,2567.2 563.9,2566.2 566.5,2565.2C569.2,2564.2 573.1,2562.4 574.4,2561.8" stroke-width="6.88" stroke-linecap="round" stroke-linejoin="round" transform="scale(1.12 1)"/>
<path d="M488.7,2562.9C490.1,2563.5 494.3,2565.3 497.1,2566.3C499.9,2567.3 502.8,2568.2 505.7,2568.9C508.6,2569.6 511.6,2570.3 514.5,2570.7C517.5,2571.2 521.9,2571.6 523.4,2571.8" stroke-width="6.88" stroke-linecap="round" stroke-linejoin="round" transform="scale(1.12 1)"/>
<path d="M442.2,2523.2C443.2,2524.5 445.9,2528.4 447.8,2530.8C449.8,2533.3 451.9,2535.6 454,2537.9C456.1,2540.2 458.3,2542.3 460.6,2544.4C462.9,2546.5 465.3,2548.5 467.7,2550.3C470.1,2552.2 473.9,2554.7 475.2,2555.6" stroke-width="6.88" stroke-linecap="round" stroke-linejoin="round" transform="scale(1.12 1)"/>
<path d="M419.9,2440C419.9,2441.6 419.6,2446.5 419.6,2449.7C419.7,2452.9 419.8,2456.2 420.1,2459.4C420.3,2462.6 420.7,2465.8 421.2,2469C421.7,2472.1 422.7,2476.9 422.9,2478.4" stroke-width="6.88" stroke-linecap="round" stroke-linejoin="round" transform="scale(1.12 1)"/>
<circle cx="540" cy="2297" r="11" fill="#000" stroke="none"/>
<path d="M432,2297C429.3,2303.8 421,2324.9 416,2337.5C411,2350.1 406.7,2361.2 402,2372.5C397.3,2383.8 392.3,2393.8 388,2405C383.7,2416.2 378,2434.2 376,2440" stroke-width="7.31" stroke-linecap="round" stroke-linejoin="round" transform="scale(1.25 1)"/>
<line x1="502" y1="2400" x2="502" y2="2427.5" stroke-width="7.74"/>
<line x1="502" y1="2435" x2="502" y2="2533" stroke-width="8.17"/>
<line x1="401.6" y1="2532.5" x2="536" y2="2362.5" stroke-width="6.45" stroke-linecap="round" transform="scale(1.25 1)"/>
<line x1="671" y1="2360" x2="671" y2="2462" stroke-width="5.59"/>
<line x1="544.8" y1="2537.5" x2="580" y2="2577.5" stroke-width="6.45" stroke-linecap="round" transform="scale(1.25 1)"/>
<ellipse cx="1480" cy="2200" rx="11" ry="8.5" fill="#000" stroke="none" transform="rotate(-20 1480 2200)"/>
<path d="M783.9,2450C793.2,2441 822.6,2411.7 839.3,2396C856,2380.3 869,2370.2 883.9,2356C898.8,2341.8 908.5,2328.7 928.6,2311C948.6,2293.3 982.9,2268.5 1004.3,2250C1025.7,2231.5 1048.3,2208.3 1057.1,2200" stroke-width="6.19" stroke-linecap="round" stroke-linejoin="round" transform="scale(1.4 1)"/>
<line x1="1178" y1="2262.5" x2="1178" y2="2462" stroke-width="7.4"/>
<line x1="841.4" y1="2262.5" x2="1032.1" y2="2670" stroke-width="4.99" stroke-linecap="round" transform="scale(1.4 1)"/>
<line x1="1444" y1="2257.5" x2="1444" y2="2300" stroke-width="5.59"/>
<line x1="1444" y1="2322.5" x2="1444" y2="2365" stroke-width="5.59"/>
<line x1="1444" y1="2382.5" x2="1444" y2="2425" stroke-width="5.59"/>
<line x1="1446" y1="2450" x2="1446" y2="2490" stroke-width="4.3"/>
<line x1="1447.5" y1="2525" x2="1447.5" y2="2673" stroke-width="6.54"/>
<line x1="1250" y1="2646" x2="1291.7" y2="2680" stroke-width="6.02" stroke-linecap="round" transform="scale(1.2 1)"/>
<polygon points="1118.75,2052.5 1085,2102.5 1107.5,2110" fill="#fff" stroke="#000" stroke-width="5" stroke-linejoin="miter"/>
<line x1="552.9" y1="2948.8" x2="686.9" y2="2560" stroke-width="2.8" transform="scale(1.3 1)"/>
<line x1="686.9" y1="2560" x2="857.7" y2="2060" stroke-width="3.36" transform="scale(1.3 1)"/>
<polygon points="1590,2022.5 1530,2050 1543.75,2067.5" fill="#fff" stroke="#000" stroke-width="5" stroke-linejoin="miter"/>
<line x1="650" y1="2448.8" x2="1092.4" y2="2026.5" stroke-width="4.4" transform="scale(1.45 1)"/>
<polygon points="780,2239.5 801,2289 826,2280" fill="#fff" stroke="#000" stroke-width="5" stroke-linejoin="miter"/>
<line x1="607.6" y1="2380" x2="540.7" y2="2245" stroke-width="3.04" transform="scale(1.45 1)"/>
<polygon points="717.5,2355.75 780,2370 770,2387.5" fill="#fff" stroke="#000" stroke-width="5" stroke-linejoin="miter"/>
<line x1="783.3" y1="2447" x2="603.3" y2="2358.5" stroke-width="3.52" transform="scale(1.2 1)"/>
<line x1="788.8" y1="2211" x2="672" y2="2316" stroke-width="4.16" transform="scale(1.25 1)"/>
<line x1="788.8" y1="2211" x2="1197.6" y2="2293" stroke-width="4.32" transform="scale(1.25 1)"/>
<line x1="788.8" y1="2211" x2="872" y2="2360" stroke-width="3.6" transform="scale(1.25 1)"/>
<polyline points="648,2446 800,2398 1197.6,2293" stroke-width="3.68" stroke-linejoin="round" transform="scale(1.25 1)"/>
<line x1="1197.6" y1="2293" x2="1308" y2="2242.5" stroke-width="2.88" transform="scale(1.25 1)"/>
<line x1="1114" y1="2152.5" x2="1197.6" y2="2293" stroke-width="3.04" transform="scale(1.25 1)"/>
<line x1="1154" y1="2222.5" x2="1197.6" y2="2293" stroke-width="4.4" transform="scale(1.25 1)"/>
<line x1="1455" y1="2112.5" x2="1612.5" y2="2131" stroke-width="3.04"/>
<line x1="834.6" y1="2355" x2="803.8" y2="2500" stroke-width="2.4" transform="scale(1.3 1)"/>
<line x1="795.4" y1="2535" x2="790.4" y2="2557.5" stroke-width="2.4" transform="scale(1.3 1)"/>
<line x1="790.4" y1="2400" x2="775" y2="2487.5" stroke-width="2.4" transform="scale(1.3 1)"/>
<path d="M1035.4,2329C1036.8,2333.8 1041.7,2347.8 1043.8,2358C1046,2368.2 1047.3,2379.7 1048.5,2390C1049.6,2400.3 1050.4,2410.7 1050.8,2420C1051.2,2429.3 1050.8,2441.7 1050.8,2446" stroke-width="2.88" stroke-linecap="round" stroke-linejoin="round" transform="scale(1.3 1)"/>
<polygon points="1345,2327 1347,2352 1353,2345 1364,2346" fill="#000" stroke="none"/>
<polygon points="1366,2448 1357,2418 1366,2424 1375,2418" fill="#000" stroke="none"/>
<line x1="1462.5" y1="2442" x2="1652.1" y2="2404" stroke-width="3.84" transform="scale(1.2 1)"/>
<line x1="1477.1" y1="2502.5" x2="1652.1" y2="2404" stroke-width="3.2" transform="scale(1.2 1)"/>
<line x1="1429.2" y1="2400" x2="1460.4" y2="2432.5" stroke-width="3.36" transform="scale(1.2 1)"/>
<line x1="1652.1" y1="2400" x2="1687.5" y2="2349" stroke-width="3.04" transform="scale(1.2 1)"/>
<line x1="1662.5" y1="2467.5" x2="1700" y2="2507.5" stroke-width="3.36" transform="scale(1.2 1)"/>
<line x1="1477.1" y1="2502.5" x2="1458.3" y2="2569" stroke-width="3.2" transform="scale(1.2 1)"/>
<line x1="1629.2" y1="2536" x2="1662.5" y2="2560" stroke-width="6" stroke-linecap="round" transform="scale(1.2 1)"/>
<path d="M1591.7,2370C1593.8,2374.5 1600.8,2387.8 1604.2,2397C1607.5,2406.2 1609.6,2415.3 1611.7,2425C1613.8,2434.7 1615.5,2444.2 1616.7,2455C1617.8,2465.8 1618.4,2484.2 1618.8,2490" stroke-width="3.2" stroke-linecap="round" stroke-linejoin="round" transform="scale(1.2 1)"/>
<polygon points="1929,2408 1912,2388 1922,2390 1930,2378" fill="#000" stroke="none"/>
<polygon points="1940,2452 1933,2480 1941,2474 1950,2478" fill="#000" stroke="none"/>
<path d="M727.3,2660.9C728.3,2660.3 731.5,2658.3 733.7,2657.1C735.8,2655.9 738.1,2654.7 740.3,2653.6C742.5,2652.5 746,2651 747.1,2650.5" stroke-width="3.2" stroke-linejoin="round"/>
<path d="M756.1,2647.1C757.4,2646.7 761.3,2645.4 763.9,2644.7C766.6,2644 769.2,2643.4 771.9,2642.8C774.6,2642.3 778.7,2641.6 780,2641.4" stroke-width="3.2" stroke-linejoin="round"/>
<path d="M791.3,2640.2C792.7,2640.2 797.1,2640 800,2640C803,2640 805.9,2640.1 808.8,2640.3C811.7,2640.5 814.7,2640.8 817.6,2641.2C820.5,2641.6 824.8,2642.4 826.2,2642.6" stroke-width="3.2" stroke-linejoin="round"/>
<path d="M837.8,2645.5C839.1,2645.9 843.1,2647.1 845.7,2648.1C848.3,2649.1 850.9,2650.1 853.5,2651.2C856,2652.3 858.6,2653.5 861,2654.8C863.5,2656 867.1,2658.1 868.3,2658.8" stroke-width="3.2" stroke-linejoin="round"/>
<path d="M877.4,2664.8C878.9,2665.9 883.2,2669.1 885.9,2671.5C888.7,2673.8 891.3,2676.3 893.8,2678.8C896.3,2681.4 899.8,2685.5 901,2686.8" stroke-width="3.2" stroke-linejoin="round"/>
<path d="M906.5,2694C907.4,2695.3 909.9,2699 911.5,2701.6C913,2704.2 914.4,2706.8 915.8,2709.5C917.1,2712.2 918.9,2716.3 919.5,2717.7" stroke-width="3.2" stroke-linejoin="round"/>
<path d="M719.2,2666.5C718.2,2667.3 715.2,2669.6 713.3,2671.2C711.4,2672.8 709.6,2674.5 707.8,2676.2C706,2678 703.5,2680.7 702.6,2681.5" stroke-width="4" stroke-linejoin="round"/>
<path d="M686.6,2703.3C685.9,2704.6 683.7,2708.5 682.4,2711.2C681.1,2713.9 679.9,2716.6 678.8,2719.4C677.8,2722.1 676.4,2726.4 675.9,2727.8" stroke-width="4" stroke-linejoin="round"/>
<path d="M672.9,2740.1C672.7,2741.8 671.8,2746.9 671.5,2750.4C671.2,2753.9 671,2757.3 671,2760.8C671,2764.3 671.4,2769.5 671.5,2771.2" stroke-width="5.2" stroke-linecap="round" stroke-linejoin="round"/>
<path d="M673,2782.4C673.4,2783.9 674.3,2788.3 675.1,2791.2C675.9,2794.1 676.8,2797 677.8,2799.8C678.8,2802.7 680.6,2806.9 681.2,2808.3" stroke-width="5.2" stroke-linecap="round" stroke-linejoin="round"/>
<path d="M687.1,2819.6C687.8,2820.7 690,2824.3 691.5,2826.6C693.1,2828.9 694.7,2831.1 696.5,2833.3C698.2,2835.5 701,2838.6 701.9,2839.7" stroke-width="4" stroke-linejoin="round"/>
<path d="M708.6,2846.5C709.9,2847.7 713.7,2851.2 716.4,2853.3C719.1,2855.5 723.4,2858.4 724.8,2859.5" stroke-width="4" stroke-linejoin="round"/>
<path d="M735.7,2866C736.8,2866.6 740.1,2868.3 742.4,2869.4C744.6,2870.4 748.1,2871.9 749.3,2872.4" stroke-width="4" stroke-linejoin="round"/>
<path d="M923.3,2728.5C923.7,2730.1 925,2734.9 925.7,2738.1C926.3,2741.3 926.8,2744.5 927.2,2747.7C927.6,2751 927.8,2755.9 927.9,2757.5" stroke-width="4.8" stroke-linecap="round" stroke-linejoin="round"/>
<path d="M927.3,2773.7C927.1,2774.9 926.7,2778.5 926.3,2780.8C925.8,2783.2 925.4,2785.5 924.8,2787.8C924.2,2790.2 923.2,2793.6 922.9,2794.8" stroke-width="4.8" stroke-linecap="round" stroke-linejoin="round"/>
<path d="M918.7,2806.2C918,2807.6 916.2,2811.8 914.8,2814.5C913.3,2817.2 910.9,2821.1 910.2,2822.5" stroke-width="3.6" stroke-linejoin="round"/>
<path d="M876.1,2858.2C874.7,2859.1 870.5,2861.9 867.7,2863.6C864.8,2865.3 860.3,2867.5 858.8,2868.3" stroke-width="3.6" stroke-linejoin="round"/>
<path d="M852.1,2871.4C850.9,2871.9 847.2,2873.4 844.7,2874.3C842.2,2875.2 839.6,2876 837.1,2876.7C834.5,2877.4 830.6,2878.4 829.4,2878.7" stroke-width="3.6" stroke-linejoin="round"/>
<line x1="780" y1="2884" x2="812" y2="2884" stroke-width="4.8"/>
<line x1="585.4" y1="2683" x2="525" y2="2715" stroke-width="3.36" transform="scale(1.2 1)"/>
<line x1="585.4" y1="2683" x2="679.2" y2="2726" stroke-width="2.88" transform="scale(1.2 1)"/>
<line x1="585.4" y1="2683" x2="743.8" y2="2847.5" stroke-width="3.04" transform="scale(1.2 1)"/>
<line x1="654.2" y1="2797.5" x2="743.8" y2="2847.5" stroke-width="3.04" transform="scale(1.2 1)"/>
<line x1="622.9" y1="2876" x2="885.4" y2="2807" stroke-width="3.84" transform="scale(1.2 1)"/>
<line x1="832" y1="2878" x2="1101" y2="2878" stroke-width="3.68"/>
<line x1="514.6" y1="2836" x2="622.9" y2="2876" stroke-width="2.4" transform="scale(1.2 1)"/>
<line x1="659.2" y1="2562.5" x2="710.4" y2="2649" stroke-width="2.4" transform="scale(1.2 1)"/>
<line x1="752.1" y1="2837.5" x2="825.8" y2="2764" stroke-width="2.4" transform="scale(1.2 1)"/>
<circle cx="895" cy="2845" r="5.5" fill="#000" stroke="none"/>
<path d="M858.3,2815C859.2,2818.3 861.9,2828.3 863.3,2835C864.7,2841.7 865.8,2848 866.7,2855C867.6,2862 868.4,2873.3 868.8,2877" stroke-width="3.2" stroke-linecap="round" stroke-linejoin="round" transform="scale(1.2 1)"/>
<polygon points="1029,2812 1026,2834 1033,2829 1041,2832" fill="#000" stroke="none"/>
<polygon points="1043,2879 1035,2856 1042,2860 1049,2856" fill="#000" stroke="none"/>
<text class="b s" transform="translate(278.4 2514.6) scale(1.054 1)" style="font-size:41.5px;stroke-width:2px;">-20</text>
<text class="b s" transform="translate(444.5 2514.6) scale(0.961 1)" style="font-size:41.8px;stroke-width:2px;">-15</text>
<text class="b s" transform="translate(604.3 2514.6) scale(1.112 1)" style="font-size:41.5px;stroke-width:2px;">-10</text>
<text class="b s" transform="translate(750.3 2512.1) scale(1.101 1)" style="font-size:41.4px;stroke-width:2px;">-5</text>
<text class="b s" transform="translate(1102.1 2513.1) scale(1.124 1)" style="font-size:42.1px;stroke-width:2px;">5</text>
<text class="b s" transform="translate(1261.8 2515.6) scale(0.987 1)" style="font-size:40.7px;stroke-width:2px;">10</text>
<text class="b s" transform="translate(1431.6 2519.1) scale(1.049 1)" style="font-size:41.0px;stroke-width:2px;">15</text>
<text class="b s" transform="translate(1601.7 2517.1) scale(1.073 1)" style="font-size:40.0px;stroke-width:2px;">20</text>
<text class="b s" transform="translate(1769.2 2516.1) scale(1.076 1)" style="font-size:39.4px;stroke-width:2px;">25</text>
<text class="b s" transform="translate(1940.2 2514.6) scale(1.225 1)" style="font-size:39.3px;stroke-width:2px;">30</text>
<text class="b s" transform="translate(894.1 2298.7) scale(1.467 1)" style="font-size:33.1px;stroke-width:2px;">5</text>
<text class="b s" transform="translate(875.2 2626.1) scale(1.129 1)" style="font-size:42.1px;stroke-width:2px;">-5</text>
<text class="b s" transform="translate(739.7 2607.5) scale(1.169 1)" style="font-size:49.6px;stroke-width:2px;">5</text>
<text class="b s" transform="translate(1566.7 2698.5) scale(1.008 1)" style="font-size:47.6px;stroke-width:2px;">3</text>
<text class="b s" transform="translate(2008.8 2591.5) scale(0.827 1)" style="font-size:47.7px;stroke-width:2px;">1</text>
<text class="b s" transform="translate(961.7 2154.4) scale(0.904 1)" style="font-size:86.2px;stroke-width:1.5px;">τ</text>
<text class="b s" transform="translate(2054.9 2431.0) scale(1.169 1)" style="font-size:77.0px;stroke-width:1.5px;">σ</text>
<text class="b i s" transform="translate(877.9 2424.8) scale(1.131 1)" style="font-size:65.2px;stroke-width:1px;">0</text>
<text class="b s" transform="translate(791.9 2236.4) scale(0.954 1)" style="font-size:58.5px;stroke-width:1px;">τ</text>
<text class="b s" transform="translate(818.8 2243.4) scale(1.029 1)" style="font-size:38.7px;stroke-width:0.5px;">3</text>
<text class="b s" transform="translate(733.5 2343.9) scale(0.848 1)" style="font-size:61.7px;stroke-width:1px;">τ</text>
<text class="b s" transform="translate(758.5 2351.8) scale(0.939 1)" style="font-size:46.6px;stroke-width:0.5px;">5</text>
<text class="r s" transform="translate(852.2 2338.7) scale(0.811 1)" style="font-size:55.5px;stroke-width:1.4px;">τ</text>
<text class="r s" transform="translate(873.5 2342.0) scale(0.981 1)" style="font-size:34.4px;stroke-width:1.4px;">β</text>
<text class="r s" transform="translate(889.2 2339.9) scale(1.097 1)" style="font-size:36.5px;stroke-width:1.4px;">α</text>
<text class="r s" transform="translate(911.3 2340.0) scale(1.215 1)" style="font-size:32.1px;stroke-width:1.4px;">3</text>
<text class="r s" transform="translate(1004.4 2203.2) scale(0.963 1)" style="font-size:43.5px;stroke-width:1.4px;">B</text>
<text class="r s" transform="translate(1033.6 2206.5) scale(0.915 1)" style="font-size:25.4px;stroke-width:1.4px;">3</text>
<text class="r s" transform="translate(1127.5 2094.8) scale(1.131 1)" style="font-size:51.9px;stroke-width:1.4px;">σ</text>
<text class="r s" transform="translate(1159.9 2101.4) scale(1.167 1)" style="font-size:41.7px;stroke-width:1.4px;">α</text>
<text class="r s" transform="translate(1184.3 2101.4) scale(1.012 1)" style="font-size:40.8px;stroke-width:1.4px;">5</text>
<text class="r s" transform="translate(1478.2 2026.3) scale(1.222 1)" style="font-size:54.7px;stroke-width:1.4px;">σ</text>
<text class="r s" transform="translate(1515.1 2032.9) scale(1.012 1)" style="font-size:42.7px;stroke-width:1.4px;">α</text>
<text class="r s" transform="translate(1537.9 2032.9) scale(0.921 1)" style="font-size:41.0px;stroke-width:1.4px;">3</text>
<text class="r s" transform="translate(1330.9 2137.7) scale(1.072 1)" style="font-size:57.6px;stroke-width:1.4px;">σ</text>
<text class="r s" transform="translate(1364.0 2143.9) scale(1.063 1)" style="font-size:42.7px;stroke-width:1.4px;">α</text>
<text class="r s" transform="translate(1388.7 2143.9) scale(1.040 1)" style="font-size:41.0px;stroke-width:1.4px;">3</text>
<text class="b s" transform="translate(1638.7 2148.1) scale(1.302 1)" style="font-size:54.8px;stroke-width:0.8px;">σ</text>
<text class="r s" transform="translate(1678.9 2154.0) scale(0.868 1)" style="font-size:41.3px;stroke-width:1.2px;">3</text>
<text class="b s" transform="translate(1710.3 2154.1) scale(0.869 1)" style="font-size:45.2px;stroke-width:0.8px;">max</text>
<text class="r s" transform="translate(1642.0 2247.8) scale(1.036 1)" style="font-size:50.2px;stroke-width:1.4px;">τ</text>
<text class="r s" transform="translate(1664.1 2252.9) scale(1.038 1)" style="font-size:40.6px;stroke-width:1.4px;">α</text>
<text class="r s" transform="translate(1686.0 2253.4) scale(1.047 1)" style="font-size:32.3px;stroke-width:1.4px;">β</text>
<text class="r s" transform="translate(1705.0 2253.0) scale(1.225 1)" style="font-size:29.9px;stroke-width:1.4px;">3</text>
<text class="r s" transform="translate(1505.3 2325.3) scale(0.902 1)" style="font-size:41.1px;stroke-width:1.4px;">A</text>
<text class="r s" transform="translate(1533.5 2329.0) scale(0.929 1)" style="font-size:27.7px;stroke-width:1.4px;">3</text>
<text class="r s" transform="translate(1320.8 2402.7) scale(1.132 1)" style="font-size:57.2px;stroke-width:1.4px;">α</text>
<text class="r s" transform="translate(1663.3 2386.3) scale(1.328 1)" style="font-size:48.0px;stroke-width:1.4px;">σ</text>
<text class="r s" transform="translate(1698.5 2390.9) scale(0.859 1)" style="font-size:39.3px;stroke-width:1.4px;">β</text>
<text class="r s" transform="translate(1728.3 2388.3) scale(0.435 1)" style="font-size:36.5px;stroke-width:1.4px;">1</text>
<text class="r s" transform="translate(1867.1 2382.7) scale(1.165 1)" style="font-size:59.3px;stroke-width:1.4px;">α</text>
<text class="r s" transform="translate(2034.5 2356.3) scale(0.974 1)" style="font-size:53.4px;stroke-width:1.4px;">τ</text>
<text class="r s" transform="translate(2056.5 2361.4) scale(1.177 1)" style="font-size:38.5px;stroke-width:1.4px;">α</text>
<text class="r s" transform="translate(2079.7 2361.7) scale(1.004 1)" style="font-size:31.2px;stroke-width:1.4px;">β</text>
<text class="r s" transform="translate(2101.1 2361.8) scale(0.615 1)" style="font-size:30.5px;stroke-width:1.4px;">1</text>
<text class="r s" transform="translate(2004.3 2421.8) scale(0.838 1)" style="font-size:43.3px;stroke-width:1.4px;">A</text>
<text class="r s" transform="translate(2032.9 2425.3) scale(0.645 1)" style="font-size:31.2px;stroke-width:1.4px;">1</text>
<text class="r s" transform="translate(2054.2 2537.8) scale(1.222 1)" style="font-size:54.7px;stroke-width:1.4px;">σ</text>
<text class="r s" transform="translate(2089.9 2543.9) scale(1.196 1)" style="font-size:40.6px;stroke-width:1.4px;">α</text>
<text class="r s" transform="translate(2116.4 2544.3) scale(0.482 1)" style="font-size:41.8px;stroke-width:1.4px;">1</text>
<text class="r s" transform="translate(1724.5 2529.2) scale(1.012 1)" style="font-size:39.7px;stroke-width:1.4px;">B</text>
<text class="r s" transform="translate(1751.3 2534.3) scale(0.535 1)" style="font-size:29.7px;stroke-width:1.4px;">1</text>
<text class="r s" transform="translate(1710.7 2608.8) scale(0.887 1)" style="font-size:52.3px;stroke-width:1.4px;">τ</text>
<text class="r s" transform="translate(1729.3 2611.8) scale(0.909 1)" style="font-size:39.9px;stroke-width:1.4px;">β</text>
<text class="r s" transform="translate(1749.0 2609.9) scale(1.149 1)" style="font-size:38.5px;stroke-width:1.4px;">α</text>
<text class="r s" transform="translate(1775.8 2610.3) scale(0.556 1)" style="font-size:38.8px;stroke-width:1.4px;">1</text>
<text class="r s" transform="translate(956.0 2517.8) scale(1.152 1)" style="font-size:50.9px;stroke-width:1.4px;">σ</text>
<text class="r s" transform="translate(993.1 2523.9) scale(0.803 1)" style="font-size:41.0px;stroke-width:1.4px;">3</text>
<text class="b s" transform="translate(1024.2 2525.7) scale(0.879 1)" style="font-size:45.2px;stroke-width:0.6px;">min</text>
<text class="r s" transform="translate(989.4 2592.8) scale(1.128 1)" style="font-size:54.7px;stroke-width:1.4px;">σ</text>
<text class="r s" transform="translate(1023.3 2597.9) scale(0.862 1)" style="font-size:42.1px;stroke-width:1.4px;">β</text>
<text class="r s" transform="translate(1043.6 2598.9) scale(1.024 1)" style="font-size:44.0px;stroke-width:1.4px;">3</text>
<text class="r s" transform="translate(735.8 2551.3) scale(1.230 1)" style="font-size:51.9px;stroke-width:1.4px;">σ</text>
<text class="r s" transform="translate(770.8 2557.9) scale(0.988 1)" style="font-size:43.0px;stroke-width:1.4px;">5</text>
<text class="b s" transform="translate(806.8 2556.8) scale(0.854 1)" style="font-size:43.5px;stroke-width:0.6px;">max</text>
<text class="r s" transform="translate(653.4 2676.7) scale(1.020 1)" style="font-size:42.7px;stroke-width:1.4px;">B</text>
<text class="r s" transform="translate(683.2 2680.0) scale(0.995 1)" style="font-size:26.5px;stroke-width:1.4px;">5</text>
<text class="r s" transform="translate(583.5 2746.2) scale(0.987 1)" style="font-size:55.5px;stroke-width:1.4px;">τ</text>
<text class="r s" transform="translate(606.0 2748.9) scale(0.909 1)" style="font-size:37.2px;stroke-width:1.4px;">β</text>
<text class="r s" transform="translate(623.0 2748.9) scale(1.149 1)" style="font-size:38.5px;stroke-width:1.4px;">α</text>
<text class="r s" transform="translate(648.0 2748.9) scale(0.752 1)" style="font-size:40.0px;stroke-width:1.4px;">5</text>
<text class="r s" transform="translate(832.3 2746.7) scale(1.127 1)" style="font-size:55.7px;stroke-width:1.4px;">σ</text>
<text class="r s" transform="translate(865.6 2751.8) scale(0.852 1)" style="font-size:47.0px;stroke-width:1.4px;">β</text>
<text class="r s" transform="translate(886.3 2750.9) scale(0.959 1)" style="font-size:43.0px;stroke-width:1.4px;">5</text>
<text class="r s" transform="translate(695.8 2798.8) scale(1.165 1)" style="font-size:54.7px;stroke-width:1.4px;">σ</text>
<text class="r s" transform="translate(731.5 2804.9) scale(1.117 1)" style="font-size:40.6px;stroke-width:1.4px;">α</text>
<text class="r s" transform="translate(754.3 2804.9) scale(0.994 1)" style="font-size:41.5px;stroke-width:1.4px;">5</text>
<text class="r s" transform="translate(476.0 2836.3) scale(1.072 1)" style="font-size:54.7px;stroke-width:1.4px;">σ</text>
<text class="r s" transform="translate(509.2 2844.8) scale(0.950 1)" style="font-size:46.0px;stroke-width:1.4px;">5</text>
<text class="b s" transform="translate(544.3 2844.7) scale(0.902 1)" style="font-size:42.3px;stroke-width:0.6px;">min</text>
<text class="r s" transform="translate(993.6 2766.3) scale(0.953 1)" style="font-size:50.2px;stroke-width:1.4px;">τ</text>
<text class="r s" transform="translate(1015.1 2770.9) scale(1.038 1)" style="font-size:40.6px;stroke-width:1.4px;">α</text>
<text class="r s" transform="translate(1037.8 2771.7) scale(0.811 1)" style="font-size:35.5px;stroke-width:1.4px;">β</text>
<text class="r s" transform="translate(1053.4 2770.9) scale(1.039 1)" style="font-size:38.5px;stroke-width:1.4px;">5</text>
<text class="r s" transform="translate(936.3 2869.3) scale(0.970 1)" style="font-size:41.8px;stroke-width:1.4px;">A</text>
<text class="r s" transform="translate(966.8 2873.0) scale(0.810 1)" style="font-size:31.0px;stroke-width:1.4px;">5</text>
<text class="r s" transform="translate(1069.4 2854.7) scale(1.095 1)" style="font-size:56.2px;stroke-width:1.4px;">α</text>
<g aria-label="Фиг.2">
<text class="r s" transform="translate(1131.8 3182.3) scale(1.049 1)" style="font-size:59.6px;stroke-width:0.6px;">Фиг.</text>
<text class="r s" transform="translate(1246.4 3182.7) scale(1.068 1)" style="font-size:59.5px;stroke-width:0.6px;">2</text>
</g>
</g>
</svg>
</body>
</html>
